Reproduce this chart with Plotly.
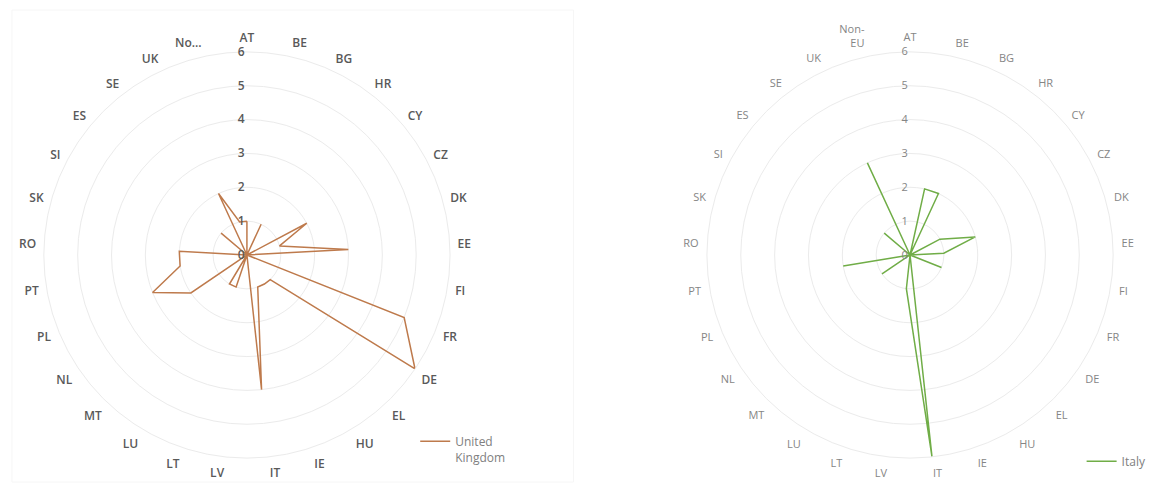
import plotly.graph_objects as go

categories = ["AT", "BE", "BG", "HR", "CY", "CZ", "DK", "EE", "FI", "FR", "DE", "EL", "HU", "IE",
              "IT", "LV", "LT", "LU", "MT", "NL", "PL", "PT", "RO", "SK", "SI", "ES", "SE", "UK", "Non-EU"]
left_ticktext = categories[:-1] + ["No..."]
right_ticktext = categories[:-1] + ["Non-<br>EU"]

uk_values = [1, 0, 1, 0, 0, 2, 1, 3, 0, 5, 6, 1, 1, 1,
             4, 0, 1, 1, 0, 2, 3, 2, 2, 0, 0, 1, 0, 2, 1]
italy_values = [0, 2, 2, 0, 0, 1, 2, 1, 0, 1, 0, 0, 0, 0,
                6, 1, 0, 0, 0, 1, 0, 2, 0, 0, 0, 1, 0, 3, 0]
radial_ticks = [0, 1, 2, 3, 4, 5, 6]

uk_color = "#BE7A4C"
it_color = "#70AD47"
grid_color = "#ebebeb"

fig = go.Figure()
fig.add_trace(go.Scatterpolar(
    r=uk_values + uk_values[:1], theta=categories + categories[:1],
    mode="lines", line=dict(color=uk_color, width=1.5),
    name="United<br>Kingdom", subplot="polar", legend="legend", showlegend=True))
fig.add_trace(go.Scatterpolar(
    r=italy_values + italy_values[:1], theta=categories + categories[:1],
    mode="lines", line=dict(color=it_color, width=1.5),
    name="Italy", subplot="polar2", legend="legend2", showlegend=True))

R = 204
def polar_layout(cx, cy, ticktext, font, ticklen):
    return dict(
        domain=dict(x=[(cx - R) / 1152, (cx + R) / 1152],
                    y=[(496 - cy - R) / 496, (496 - cy + R) / 496]),
        bgcolor="white",
        angularaxis=dict(rotation=90, direction="clockwise", type="category",
                         categoryorder="array", categoryarray=categories,
                         tickmode="array", tickvals=categories, ticktext=ticktext,
                         showgrid=False, showline=True, linecolor=grid_color, linewidth=1,
                         ticks="outside", ticklen=ticklen, tickcolor="rgba(0,0,0,0)", tickfont=font),
        radialaxis=dict(range=[0, 6], tickmode="array", tickvals=radial_ticks,
                        angle=90, side="counterclockwise", showline=False, ticks="",
                        gridcolor=grid_color, gridwidth=1, tickfont=font, tickangle=90),
    )

left_font = dict(family="Open Sans", size=12, color="#595959", weight=600)
right_font = dict(family="Open Sans", size=11, color="#858585")

fig.update_layout(
    width=1152, height=496,
    margin=dict(l=0, r=0, t=0, b=0),
    paper_bgcolor="white",
    showlegend=True,
    polar=polar_layout(248, 255, left_ticktext, left_font, 5),
    polar2=polar_layout(914, 255, right_ticktext, right_font, 6),
    legend=dict(x=0.362, y=0.139, xanchor="left", yanchor="top", itemwidth=30, valign="top",
                font=dict(family="Open Sans", size=12, color="#808080"), bgcolor="rgba(0,0,0,0)"),
    legend2=dict(x=0.943, y=0.099, xanchor="left", yanchor="top", itemwidth=30, valign="top",
                 font=dict(family="Open Sans", size=12, color="#808080"), bgcolor="rgba(0,0,0,0)"),
    shapes=[dict(type="rect", xref="paper", yref="paper", x0=12 / 1152, x1=576 / 1152,
                 y0=14 / 496, y1=486 / 496, line=dict(color="#f6f6f6", width=1))],
)

fig.write_html("out.html", post_script="document.body.style.margin='0';",
               config={"displayModeBar": False})
